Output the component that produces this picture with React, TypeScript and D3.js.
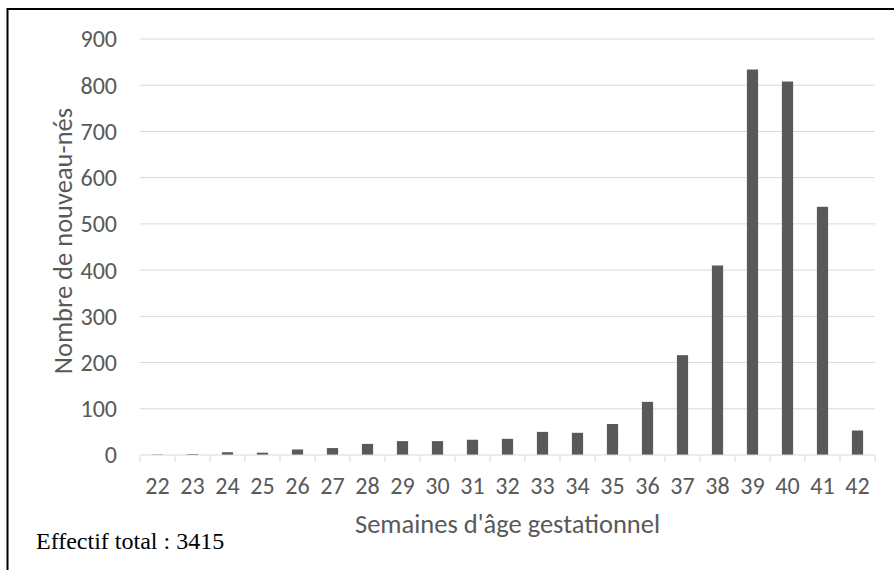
import React from 'react';
import * as d3 from 'd3';

const weeks = ['22', '23', '24', '25', '26', '27', '28', '29', '30', '31', '32', '33', '34', '35', '36', '37', '38', '39', '40', '41', '42'];
const newborns = [1, 2, 6, 5, 12, 15, 24, 30, 30, 33, 35, 50, 48, 67, 115, 216, 410, 834, 808, 537, 53];
const yTicks = [0, 100, 200, 300, 400, 500, 600, 700, 800, 900];

const App: React.FC = () => {
  const ref = React.useRef<SVGSVGElement>(null);

  React.useEffect(() => {
    const width = 894;
    const height = 570;
    const margin = { top: 39, right: 19, bottom: 115, left: 140 };
    const font = 'Calibri, Carlito, "Open Sans", sans-serif';
    const grey = '#595959';

    const svg = d3.select(ref.current);
    svg.selectAll('*').remove();

    svg.append('rect').attr('width', width).attr('height', height).attr('fill', '#fff');
    svg
      .append('rect')
      .attr('x', 7.5)
      .attr('y', 9)
      .attr('width', width + 20)
      .attr('height', height + 20)
      .attr('fill', 'none')
      .attr('stroke', '#000')
      .attr('stroke-width', 2);

    const x = d3
      .scaleBand<string>()
      .domain(weeks)
      .range([margin.left, width - margin.right])
      .paddingInner(0.68)
      .paddingOuter(0.34);
    const y = d3.scaleLinear().domain([0, 900]).range([height - margin.bottom, margin.top]);

    // gridlines
    svg
      .append('g')
      .selectAll('line')
      .data(yTicks.slice(1))
      .enter()
      .append('line')
      .attr('x1', margin.left)
      .attr('x2', width - margin.right)
      .attr('y1', (d: number) => y(d))
      .attr('y2', (d: number) => y(d))
      .attr('stroke', '#d9d9d9')
      .attr('stroke-width', 1);

    // bars
    svg
      .append('g')
      .selectAll('rect')
      .data(newborns)
      .enter()
      .append('rect')
      .attr('x', (_d: number, i: number) => x(weeks[i]) as number)
      .attr('y', (d: number) => y(d))
      .attr('width', x.bandwidth())
      .attr('height', (d: number) => y(0) - y(d))
      .attr('fill', grey);

    // x axis line + ticks between categories
    const base = y(0);
    svg
      .append('line')
      .attr('x1', margin.left)
      .attr('x2', width - margin.right)
      .attr('y1', base)
      .attr('y2', base)
      .attr('stroke', '#d9d9d9')
      .attr('stroke-width', 1);
    const step = x.step();
    const bounds = d3.range(weeks.length + 1).map((i: number) => margin.left + i * step);
    svg
      .append('g')
      .selectAll('line')
      .data(bounds)
      .enter()
      .append('line')
      .attr('x1', (d: number) => d)
      .attr('x2', (d: number) => d)
      .attr('y1', base)
      .attr('y2', base + 7)
      .attr('stroke', '#d9d9d9')
      .attr('stroke-width', 1);

    // x tick labels
    svg
      .append('g')
      .selectAll('text')
      .data(weeks)
      .enter()
      .append('text')
      .attr('x', (d: string) => (x(d) as number) + x.bandwidth() / 2)
      .attr('y', base + 39)
      .attr('text-anchor', 'middle')
      .attr('font-family', font)
      .attr('font-size', 24)
      .attr('fill', grey)
      .text((d: string) => d);

    // y tick labels
    svg
      .append('g')
      .selectAll('text')
      .data(yTicks)
      .enter()
      .append('text')
      .attr('x', 117)
      .attr('y', (d: number) => y(d))
      .attr('dy', '0.35em')
      .attr('text-anchor', 'end')
      .attr('font-family', font)
      .attr('font-size', 24)
      .attr('fill', grey)
      .text((d: number) => d);

    // axis titles
    svg
      .append('text')
      .attr('x', (margin.left + width - margin.right) / 2)
      .attr('y', 533)
      .attr('text-anchor', 'middle')
      .attr('font-family', font)
      .attr('font-size', 26.5)
      .attr('fill', grey)
      .text("Semaines d'âge gestationnel");

    svg
      .append('text')
      .attr('transform', `translate(72,${(margin.top + base) / 2 - 6}) rotate(-90)`)
      .attr('text-anchor', 'middle')
      .attr('font-family', font)
      .attr('font-size', 26.5)
      .attr('fill', grey)
      .text('Nombre de nouveau-nés');

    svg
      .append('text')
      .attr('x', 36)
      .attr('y', 549)
      .attr('font-family', '"Liberation Serif", "Times New Roman", serif')
      .attr('font-size', 24)
      .attr('fill', '#000')
      .text('Effectif total : 3415');
  }, []);

  return (
    <svg
      ref={ref}
      width={894}
      height={570}
      style={{ position: 'absolute', left: 0, top: 0, display: 'block' }}
    />
  );
};

export default App;
